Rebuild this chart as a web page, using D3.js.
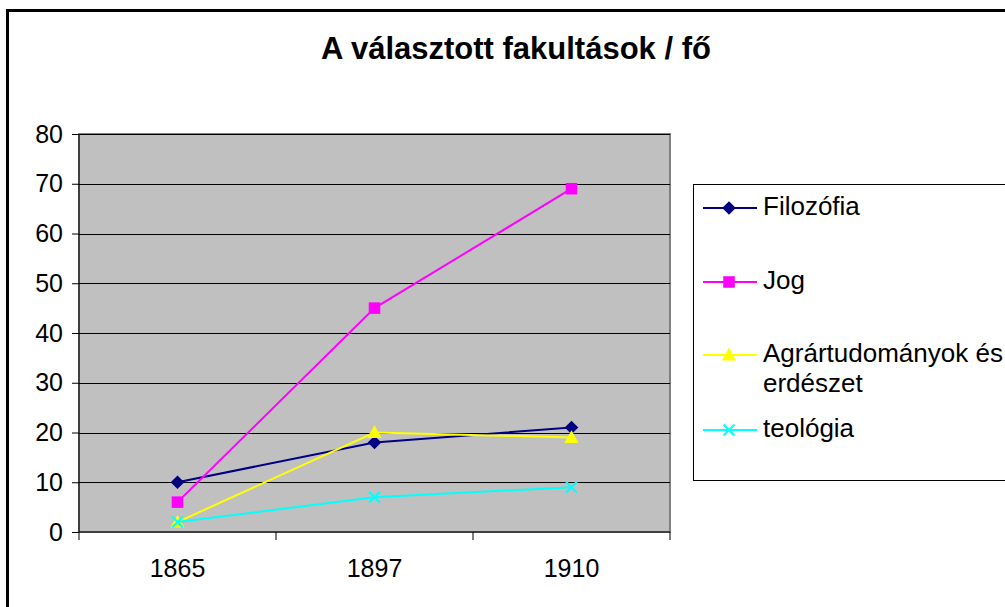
<!DOCTYPE html>
<html><head><meta charset="utf-8">
<script src="https://cdn.jsdelivr.net/npm/d3@7"></script>
<style>body{margin:0;background:#fff;}svg{display:block;font-family:"Liberation Sans",Arial,sans-serif;}</style>
</head><body>
<script>
const title = "A választott fakultások / fő";
const categories = ["1865", "1897", "1910"];
const seriesNames = ["Filozófia", "Jog", "Agrártudományok és erdészet", "teológia"];
const legendLines = [["Filozófia"], ["Jog"], ["Agrártudományok és", "erdészet"], ["teológia"]];
const filozofia = [10, 18, 21];
const jog = [6, 45, 69];
const agrar = [2, 20, 19];
const teologia = [2, 7, 9];
const yTicks = [0, 10, 20, 30, 40, 50, 60, 70, 80];
const colors = ["#000080", "#FF00FF", "#FFFF00", "#00FFFF"];
const markers = ["diamond", "square", "triangle", "x"];
const seriesValues = [filozofia, jog, agrar, teologia];

const W = 1005, H = 607;
const svg = d3.select("body").append("svg").attr("width", W).attr("height", H);

// outer chart border
svg.append("rect").attr("x", 7.5).attr("y", 10.5).attr("width", 1100).attr("height", 700)
  .attr("fill", "#fff").attr("stroke", "#000").attr("stroke-width", 3);

svg.append("text").attr("x", 516).attr("y", 59).attr("text-anchor", "middle")
  .attr("font-size", 31).attr("font-weight", "bold").text(title);

const L = 79, T = 134, R = 670, B = 532;
const x = d3.scaleBand().domain(categories).range([L, R]);
const y = d3.scaleLinear().domain([0, 80]).range([B, T]);

svg.append("rect").attr("x", L).attr("y", T).attr("width", R - L).attr("height", B - T)
  .attr("fill", "#C0C0C0").attr("stroke", "#808080").attr("stroke-width", 2);

// gridlines
svg.append("g").selectAll("line").data(yTicks.filter(d => d > 0)).join("line")
  .attr("x1", L).attr("x2", R).attr("y1", d => Math.round(y(d)) + 0.5).attr("y2", d => Math.round(y(d)) + 0.5)
  .attr("stroke", "#000").attr("stroke-width", 1);

// y axis
const yAxis = svg.append("g").attr("transform", `translate(${L},0)`)
  .call(d3.axisLeft(y).tickValues(yTicks).tickSize(7).tickPadding(9));
yAxis.attr("font-size", null).attr("font-family", null);
yAxis.selectAll("text").attr("font-size", 25).attr("fill", "#000");
yAxis.selectAll("line,path").attr("stroke", "#000");
yAxis.select(".domain").attr("d", `M0,${T}V${B}`);

// x axis
const xAxis = svg.append("g").attr("transform", `translate(0,${B})`)
  .call(d3.axisBottom(x).tickSize(0).tickPadding(27));
xAxis.attr("font-size", null).attr("font-family", null);
xAxis.selectAll("text").attr("font-size", 25).attr("fill", "#000");
xAxis.select(".domain").attr("stroke", "#000").attr("d", `M${L},0H${R}`);
const bounds = [L].concat(categories.map(c => x(c) + x.bandwidth()));
xAxis.selectAll(".bt").data(bounds).join("line").attr("class", "bt")
  .attr("x1", d => d).attr("x2", d => d).attr("y1", 0).attr("y2", 8).attr("stroke", "#000");

function markerPath(type, s) {
  if (type === "diamond") return `M0,${-s}L${s},0L0,${s}L${-s},0Z`;
  if (type === "square") return `M${-s*0.85},${-s*0.85}H${s*0.85}V${s*0.85}H${-s*0.85}Z`;
  if (type === "triangle") return `M0,${-s*1.05}L${s*1.05},${s*0.8}L${-s*1.05},${s*0.8}Z`;
  return `M${-s*0.8},${-s*0.8}L${s*0.8},${s*0.8}M${s*0.8},${-s*0.8}L${-s*0.8},${s*0.8}`;
}
function drawMarker(g, type, color, cx, cy) {
  const p = g.append("path").attr("transform", `translate(${cx},${cy})`).attr("d", markerPath(type, 6.8));
  if (type === "x") p.attr("fill", "none").attr("stroke", color).attr("stroke-width", 2);
  else p.attr("fill", color).attr("stroke", "none");
}

const line = d3.line().x((d, i) => x(categories[i]) + x.bandwidth() / 2).y(d => y(d));
seriesValues.forEach((vals, si) => {
  const g = svg.append("g");
  g.append("path").attr("d", line(vals)).attr("fill", "none").attr("stroke", colors[si]).attr("stroke-width", 2);
  vals.forEach((v, i) => drawMarker(g, markers[si], colors[si], x(categories[i]) + x.bandwidth() / 2, y(v)));
});

// legend
svg.append("rect").attr("x", 693.5).attr("y", 184.5).attr("width", 400).attr("height", 296)
  .attr("fill", "#fff").attr("stroke", "#000").attr("stroke-width", 1);
const legendY = [208, 282, 355, 430];
legendLines.forEach((lines, si) => {
  const g = svg.append("g");
  const ly = legendY[si];
  g.append("line").attr("x1", 703).attr("x2", 757).attr("y1", ly).attr("y2", ly)
    .attr("stroke", colors[si]).attr("stroke-width", 2);
  drawMarker(g, markers[si], colors[si], 729, ly);
  lines.forEach((t, k) => {
    g.append("text").attr("x", 763).attr("y", ly + 7 + k * 30).attr("font-size", 26).attr("fill", "#000").text(t);
  });
});
</script>
</body></html>
